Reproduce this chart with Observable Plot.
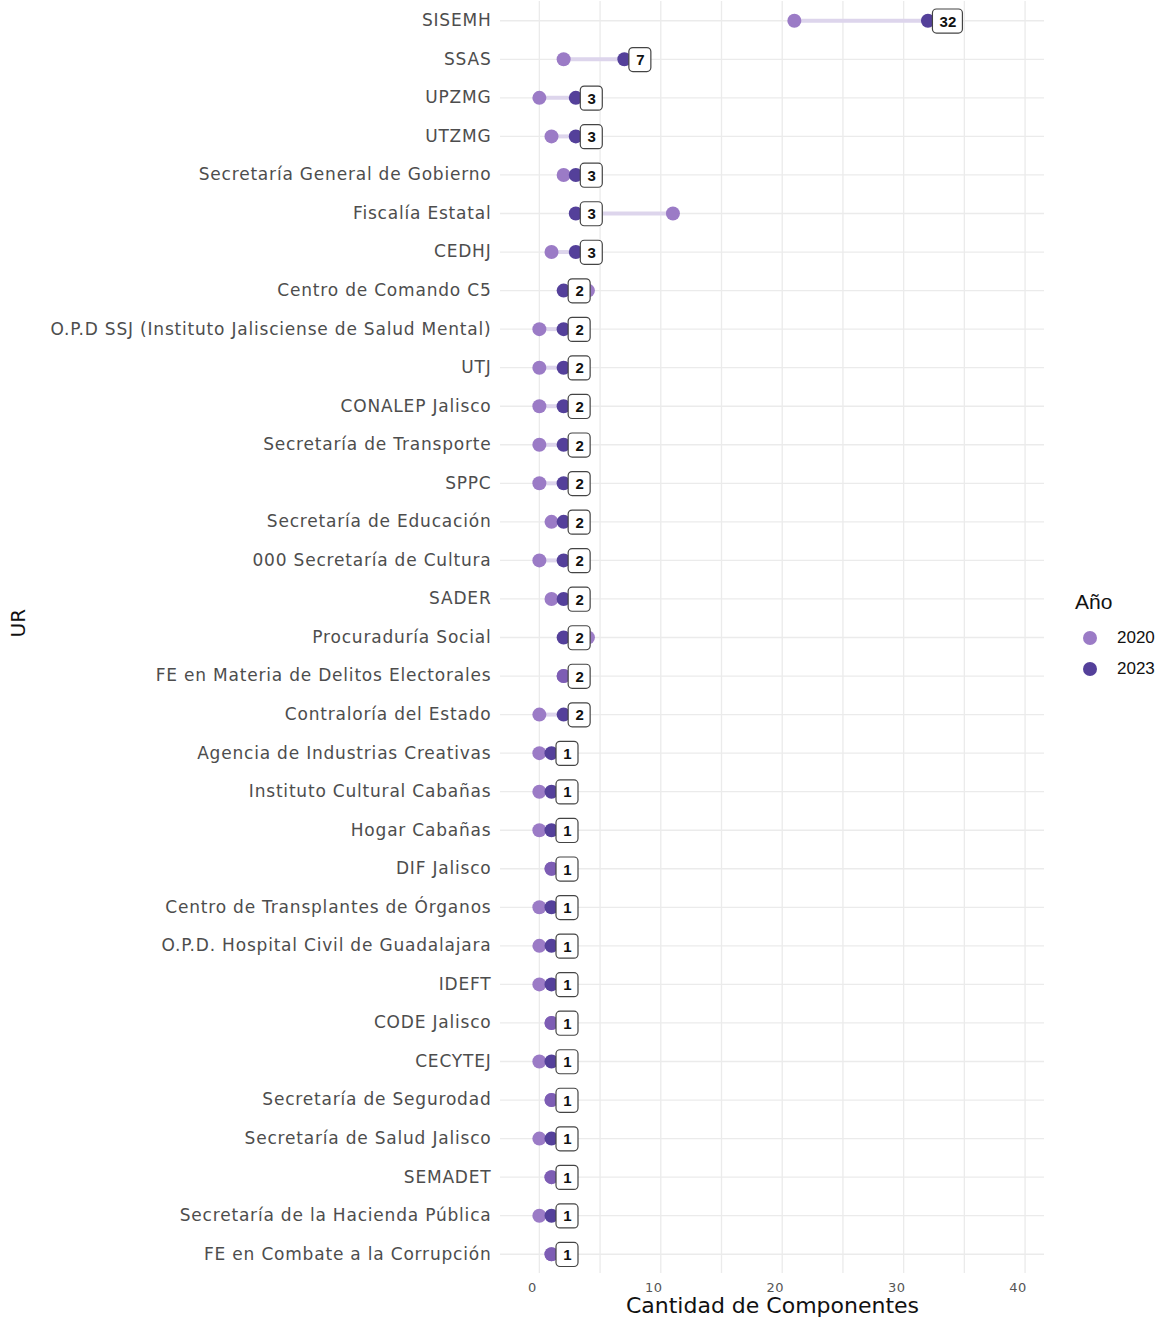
<!DOCTYPE html>
<html>
<head>
<meta charset="utf-8">
<script src="https://cdn.jsdelivr.net/npm/d3@7"></script>
<script src="https://cdn.jsdelivr.net/npm/@observablehq/plot@0.6"></script>
<style>
  body { margin: 0; background: #fff; }
  #wrap { position: relative; width: 1164px; height: 1320px; }
  #wrap g[aria-label="y-axis tick label"] text { letter-spacing: 0.8px; }
  #wrap g[aria-label="x-axis tick label"] text { letter-spacing: 0.5px; }
  #legend { position: absolute; left: 1075px; top: 590px; font-family: "Liberation Sans", Arial, sans-serif; color: #111; }
  #legend .title { font-size: 21px; margin-bottom: 8px; }
  #legend .item { display: flex; align-items: center; height: 31px; font-size: 17px; }
  #legend .sw { width: 14px; height: 14px; border-radius: 50%; margin-left: 8px; margin-right: 20px; }
</style>
</head>
<body>
<div id="wrap"></div>
<script>
const categories = [
  "SISEMH", "SSAS", "UPZMG", "UTZMG", "Secretaría General de Gobierno", "Fiscalía Estatal", "CEDHJ",
  "Centro de Comando C5", "O.P.D SSJ (Instituto Jalisciense de Salud Mental)", "UTJ", "CONALEP Jalisco",
  "Secretaría de Transporte", "SPPC", "Secretaría de Educación", "000 Secretaría de Cultura", "SADER",
  "Procuraduría Social", "FE en Materia de Delitos Electorales", "Contraloría del Estado",
  "Agencia de Industrias Creativas", "Instituto Cultural Cabañas", "Hogar Cabañas", "DIF Jalisco",
  "Centro de Transplantes de Órganos", "O.P.D. Hospital Civil de Guadalajara", "IDEFT", "CODE Jalisco",
  "CECYTEJ", "Secretaría de Segurodad", "Secretaría de Salud Jalisco", "SEMADET",
  "Secretaría de la Hacienda Pública", "FE en Combate a la Corrupción"
];
const values2020 = [21, 2, 0, 1, 2, 11, 1, 4, 0, 0, 0, 0, 0, 1, 0, 1, 4, 2, 0, 0, 0, 0, 1, 0, 0, 0, 1, 0, 1, 0, 1, 0, 1];
const values2023 = [32, 7, 3, 3, 3, 3, 3, 2, 2, 2, 2, 2, 2, 2, 2, 2, 2, 2, 2, 1, 1, 1, 1, 1, 1, 1, 1, 1, 1, 1, 1, 1, 1];
const xTicks = [0, 10, 20, 30, 40];
const gridTicks = [0, 5, 10, 15, 20, 25, 30, 35, 40];
const years = ["2020", "2023"];
const yearColors = ["#9b7bc6", "#54409a"];
const sameColor = "#7d5db4";

const rows = categories.map((c, i) => ({ur: c, v2020: values2020[i], v2023: values2023[i]}));
const oneDigit = rows.filter(d => String(d.v2023).length === 1);
const twoDigit = rows.filter(d => String(d.v2023).length === 2);

const labelFont = "'Liberation Sans', Arial, sans-serif";
const mainFont = "'DejaVu Sans', sans-serif";

const plot = Plot.plot({
  width: 1164,
  height: 1320,
  marginLeft: 500,
  marginRight: 120,
  marginTop: 1,
  marginBottom: 47,
  style: {fontFamily: mainFont, background: "white"},
  x: {domain: [-3.2, 41.6]},
  y: {domain: categories, padding: 0, round: false},
  marks: [
    Plot.gridX(gridTicks, {stroke: "#ebebeb", strokeOpacity: 1, strokeWidth: 1.3}),
    Plot.gridY({stroke: "#ebebeb", strokeOpacity: 1, strokeWidth: 1.3}),
    Plot.axisX(xTicks, {tickSize: 0, tickPadding: 9, dx: -7, fontSize: 13, fill: "#555", label: null}),
    Plot.axisY({tickSize: 0, tickPadding: 9, fontSize: 17, fill: "#4d4d4d", label: null}),
    Plot.ruleY(rows, {y: "ur", x1: "v2020", x2: "v2023", stroke: "#ddd5ec", strokeWidth: 4}),
    Plot.dot(rows, {x: "v2020", y: "ur", r: 7, fill: yearColors[0], stroke: "none"}),
    Plot.dot(rows, {x: "v2023", y: "ur", r: 7, fill: d => d.v2020 === d.v2023 ? sameColor : yearColors[1], stroke: "none"}),
    Plot.barX(oneDigit, {x1: "v2023", x2: "v2023", y: "ur", insetLeft: 5, insetRight: -27, insetTop: 8, insetBottom: 6.5, rx: 4, fill: "white", stroke: "#444", strokeWidth: 1.2}),
    Plot.barX(twoDigit, {x1: "v2023", x2: "v2023", y: "ur", insetLeft: 5, insetRight: -35, insetTop: 8, insetBottom: 6.5, rx: 4, fill: "white", stroke: "#444", strokeWidth: 1.2}),
    Plot.text(oneDigit, {x: "v2023", y: "ur", text: d => String(d.v2023), dx: 16, dy: 1, fontSize: 15, fontWeight: "bold", fill: "#111", fontFamily: labelFont}),
    Plot.text(twoDigit, {x: "v2023", y: "ur", text: d => String(d.v2023), dx: 20, dy: 1, fontSize: 15, fontWeight: "bold", fill: "#111", fontFamily: labelFont}),
    Plot.text(["Cantidad de Componentes"], {frameAnchor: "bottom", dy: 39, fontSize: 22, fill: "#111", text: d => d, fontWeight: 500}),
    Plot.text(["UR"], {frameAnchor: "left", dx: -482, rotate: -90, fontSize: 20, fill: "#111", text: d => d, fontFamily: mainFont})
  ]
});

const wrap = document.getElementById("wrap");
wrap.appendChild(plot);

const legend = document.createElement("div");
legend.id = "legend";
legend.innerHTML = `<div class="title">Año</div>` +
  years.map((y, i) => `<div class="item"><span class="sw" style="background:${yearColors[i]}"></span>${y}</div>`).join("");
wrap.appendChild(legend);
</script>
</body>
</html>
